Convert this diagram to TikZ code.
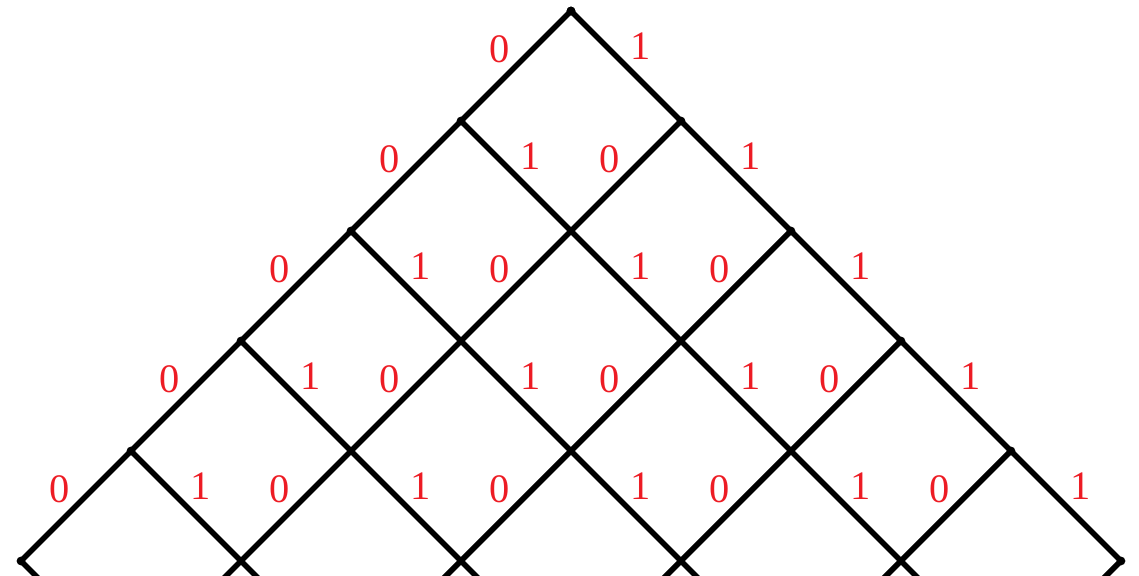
\documentclass[tikz,border=0pt]{standalone}
\usepackage{fontspec}
\setmainfont{Liberation Serif}
\usetikzlibrary{calc}
\definecolor{labelred}{RGB}{237,28,36}
\begin{document}
\begin{tikzpicture}[x=2.2cm,y=2.2cm,line width=3.2pt,
  bitlabel/.style={text=labelred,font=\fontsize{23}{26}\selectfont,inner sep=0pt}]

\useasboundingbox (-5.191,-5.136) rectangle (5.164,0.1);
\clip (-5.191,-5.136) rectangle (5.164,0.1);

% lattice points, one extra row below the frame
\foreach \r in {0,...,6} {
  \foreach \k in {0,...,\r} {
    \coordinate (v-\r-\k) at ({2*\k-\r},-\r);
  }
}

% edges with their bits
\foreach \r in {0,...,4} {
  \pgfmathtruncatemacro\s{\r+1}
  \foreach \k in {0,...,\r} {
    \pgfmathtruncatemacro\t{\k+1}
    \draw (v-\r-\k) -- (v-\s-\k);
    \draw (v-\r-\k) -- (v-\s-\t);
    \node[bitlabel] (zero-\r-\k) at ($(v-\r-\k)!0.5!(v-\s-\k)+(-0.15,0.15)$) {0};
    \node[bitlabel] (one-\r-\k) at ($(v-\r-\k)!0.5!(v-\s-\t)+(0.13,0.18)$) {1};
  }
}

% stubs leaving the bottom
\foreach \k in {1,...,5} \draw (v-5-\k) -- (v-6-\k);
\foreach \k in {0,...,4} {
  \pgfmathtruncatemacro\t{\k+1}
  \draw (v-5-\k) -- (v-6-\t);
}

% dots on the border
\foreach \r in {0,...,5} {
  \fill (v-\r-0) circle (2.5pt);
  \fill (v-\r-\r) circle (2.5pt);
}

\end{tikzpicture}
\end{document}
